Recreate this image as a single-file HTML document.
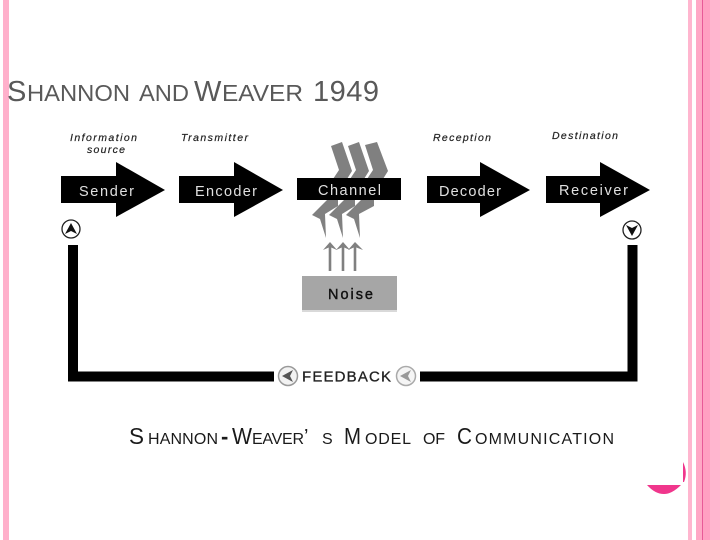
<!DOCTYPE html>
<html><head><meta charset="utf-8">
<style>
html,body{margin:0;padding:0;background:#fff;width:720px;height:540px;overflow:hidden}
svg{display:block}
text{font-family:"Liberation Sans",Arial,sans-serif}
</style></head>
<body>
<svg xmlns="http://www.w3.org/2000/svg" width="720" height="540" viewBox="0 0 720 540">
<defs><filter id="b" x="-5%" y="-5%" width="110%" height="110%" color-interpolation-filters="sRGB"><feGaussianBlur stdDeviation="0.35"/></filter></defs>
<rect width="720" height="540" fill="#fff"/>
<!-- decorative bars -->
<rect x="3" y="0" width="6" height="540" fill="#ffb0cb"/>
<rect x="688" y="0" width="4" height="540" fill="#ffb6cf"/>
<rect x="696" y="0" width="24" height="540" fill="#ffb6cf"/>
<rect x="696" y="0" width="6" height="540" fill="#ffa8c6"/>
<rect x="703" y="0" width="7" height="540" fill="#ffa0c2"/>
<rect x="702" y="0" width="1" height="540" fill="#e85a98"/>
<path d="M683 462 Q688 472 684 482 L683 482 Z" fill="#f0368c"/>
<path d="M647 485 L681 485 Q672 494 664 494 Q655 494 647 485 Z" fill="#f0368c"/>
<!-- title -->
<g fill="#595959">
<text x="7" y="101" font-size="29">S</text>
<text x="27" y="101" font-size="23" textLength="103" lengthAdjust="spacingAndGlyphs">HANNON</text>
<text x="139" y="101" font-size="23" textLength="50" lengthAdjust="spacingAndGlyphs">AND</text>
<text x="194" y="101" font-size="29">W</text>
<text x="222" y="101" font-size="23" textLength="81" lengthAdjust="spacingAndGlyphs">EAVER</text>
<text x="313" y="101" font-size="29" textLength="66">1949</text>
</g>
<g filter="url(#b)">
<!-- bolts -->
<g fill="#808080">
<polygon points="331,146 342,142 352,171 347,179 333,179 339,170"/>
<polygon points="348,146 359,142 369,171 364,179 350,179 356,170"/>
<polygon points="365,145 377,142 388,171 383,179 367,179 373,170"/>
<polygon points="312,215 327,200 338,200 338,206 325,214 326,238 320,219"/>
<polygon points="329,215 344,200 355,200 355,206 342,214 343,238 337,219"/>
<polygon points="346,215 361,200 374,200 374,206 359,214 360,238 354,219"/>
</g>
<!-- arrows -->
<g fill="#000">
<polygon points="61,176 116,176 116,162 165,190 116,217 116,203 61,203"/>
<polygon points="179,176 234,176 234,162 283,190 234,217 234,203 179,203"/>
<polygon points="427,176 480,176 480,162 530,190 480,217 480,203 427,203"/>
<polygon points="546,176 600,176 600,162 650,190 600,217 600,203 546,203"/>
<rect x="297" y="178" width="104" height="22"/>
</g>
<!-- noise arrows -->
<g fill="none" stroke="#808080" stroke-width="2.600">
<path d="M330 271V244M343 271V244M355 271V244"/>
</g>
<g fill="#808080">
<polygon points="323,250 330,242 337,250 330,247"/>
<polygon points="336,250 343,242 350,250 343,247"/>
<polygon points="348,250 355,242 363,250 355,247"/>
</g>
<rect x="302" y="276" width="95" height="34" fill="#a6a6a6"/>
<rect x="302" y="310" width="95" height="2" fill="#d9d9d9"/>
<!-- labels -->
<g font-style="italic" font-size="10.500" fill="#222" stroke="#222" stroke-width="0.2">
<text x="70" y="141" textLength="67">Information</text>
<text x="87" y="153" textLength="38">source</text>
<text x="181" y="141" textLength="67">Transmitter</text>
<text x="433" y="141" textLength="58">Reception</text>
<text x="552" y="139" textLength="66">Destination</text>
</g>
<g fill="#e0e0e0" font-size="14.500">
<text x="79" y="196" textLength="55">Sender</text>
<text x="195" y="196" textLength="62">Encoder</text>
<text x="318" y="195" textLength="63">Channel</text>
<text x="439" y="196" textLength="62">Decoder</text>
<text x="559" y="195" textLength="69">Receiver</text>
</g>
<text x="328" y="299" font-size="14.500" fill="#111" stroke="#111" stroke-width="0.4" textLength="45">Noise</text>
<!-- feedback line -->
<path d="M73 245V376.500H274M420 376.500H632.500V245" fill="none" stroke="#000" stroke-width="10"/>
<!-- circles -->
<circle cx="71" cy="229" r="9" fill="#fff" stroke="#222" stroke-width="1.300"/>
<polygon points="71,223 77,234 71,231 65,234" fill="#111"/>
<circle cx="632" cy="230" r="9" fill="#fff" stroke="#222" stroke-width="1.300"/>
<polygon points="632,236 638,225 632,228 626,225" fill="#111"/>
<circle cx="288" cy="376" r="9.500" fill="#f2f2f2" stroke="#999" stroke-width="1.500"/>
<polygon points="282,376 293,370 290,376 293,382" fill="#555"/>
<circle cx="406" cy="376" r="9.500" fill="#f5f5f5" stroke="#aaa" stroke-width="1.500"/>
<polygon points="400,376 411,370 408,376 411,382" fill="#999"/>
<text x="302" y="381.500" font-size="15" fill="#222" stroke="#222" stroke-width="0.3" textLength="89">FEEDBACK</text>
<!-- caption -->
<g fill="#1a1a1a">
<text x="129" y="444" font-size="23" textLength="15" lengthAdjust="spacingAndGlyphs">S</text>
<text x="148" y="444" font-size="16" textLength="70">HANNON</text>
<text x="221" y="444" font-size="22" font-weight="bold">-</text>
<text x="232" y="444" font-size="23" textLength="20" lengthAdjust="spacingAndGlyphs">W</text>
<text x="252" y="444" font-size="16" textLength="52">EAVER</text>
<text x="304" y="443" font-size="20">’</text>
<text x="322" y="444" font-size="16">S</text>
<text x="344" y="444" font-size="23" textLength="17" lengthAdjust="spacingAndGlyphs">M</text>
<text x="365" y="444" font-size="16" textLength="46">ODEL</text>
<text x="423" y="444" font-size="16" textLength="22">OF</text>
<text x="457" y="444" font-size="23" textLength="15" lengthAdjust="spacingAndGlyphs">C</text>
<text x="475" y="444" font-size="16" textLength="139">OMMUNICATION</text>
</g>
</g>
</svg>
</body></html>
